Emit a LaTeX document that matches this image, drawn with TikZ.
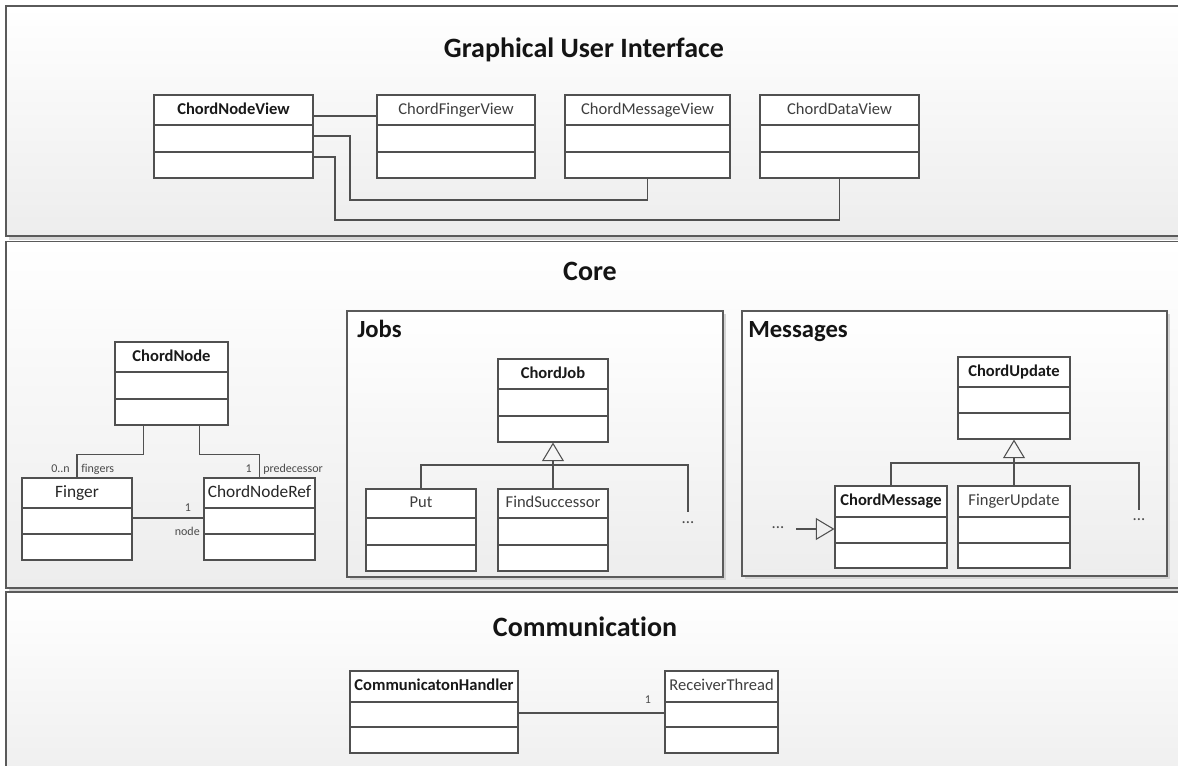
\documentclass[tikz,border=0pt]{standalone}
\usepackage{fontspec}
\setmainfont{Carlito}[Ligatures=NoCommon]
\usetikzlibrary{arrows.meta,fit,calc}
\definecolor{edgec}{HTML}{505050}
\definecolor{panelline}{HTML}{5A5A5A}
\definecolor{shadowc}{HTML}{D4D4D4}
\definecolor{lighttext}{HTML}{3E3E3E}
\definecolor{labtext}{HTML}{4A4A4A}
\definecolor{panelbot}{HTML}{EDEDED}
\tikzset{
  panel/.style={draw=panelline, line width=1.2pt, top color=white, bottom color=panelbot},
  subpanel/.style={draw=panelline, line width=0.9pt, top color=white, bottom color=panelbot},
  panelshadow/.style={fill=shadowc, draw=none},
  classbox/.style={draw=edgec, line width=0.8pt, fill=white, inner sep=0pt},
  divider/.style={draw=edgec, line width=0.8pt},
  assoc/.style={draw=edgec, line width=0.8pt},
  inherit/.style={draw=edgec, line width=0.8pt, -{Triangle[open, length=14pt, width=16.5pt]}},
  bname/.style={font=\fontsize{12.4pt}{14pt}\selectfont\bfseries, text=black!90, text height=0.7em, text depth=0.1em, inner sep=0pt},
  rname/.style={font=\fontsize{12.4pt}{14pt}\selectfont, text=lighttext, text height=0.7em, text depth=0.1em, inner sep=0pt},
  lname/.style={font=\fontsize{13pt}{15pt}\selectfont, text=black!85, text height=0.7em, text depth=0.1em, inner sep=0pt},
  sectitle/.style={font=\fontsize{21pt}{25pt}\selectfont\bfseries, text=black!92, anchor=base},
  subtitle/.style={font=\fontsize{18.5pt}{22pt}\selectfont\bfseries, text=black!92, anchor=base west, inner sep=0pt},
  mult/.style={font=\fontsize{9pt}{11pt}\selectfont, text=labtext, inner sep=0pt},
  dotsty/.style={font=\fontsize{12.5pt}{14pt}\selectfont, text=labtext, inner sep=0.5pt},
}
\newcommand{\umlclass}[9]{%
  \coordinate (#1-nw) at (#2,#3);
  \coordinate (#1-se) at (#4,#5);
  \node[classbox, fit=(#1-nw)(#1-se)] (#1) {};
  \draw[divider] (#2,#6) -- (#4,#6) (#2,#7) -- (#4,#7);
  \node[#8] (#1-name) at ({(#2+#4)/2},{(#3+#6)/2}) {#9};
}
\begin{document}
\begin{tikzpicture}[x=0.75pt,y=-0.75pt]
\clip (0,0) rectangle (1178,765);
\fill[white] (0,0) rectangle (1178,765);

% ---------- panels ----------
\fill[panelshadow] (9,9) rectangle (1205,239.5);
\path[panel] (6,6) rectangle (1200,236);
\fill[panelshadow] (9,244) rectangle (1205,590.5);
\path[panel] (6,241.5) rectangle (1200,588);
\path[panel] (6,592) rectangle (1200,800);

\node[sectitle] (guititle) at (584,57) {Graphical User Interface};
\node[sectitle] (coretitle) at (590,280) {Core};
\node[sectitle] (commtitle) at (585,636) {Communication};

% ---------- GUI ----------
\umlclass{cnv}{154}{95}{313}{178}{125}{152}{bname}{ChordNodeView}
\umlclass{cfv}{377}{95}{535}{178}{125}{152}{rname}{ChordFingerView}
\umlclass{cmv}{565}{95}{730}{178}{125}{152}{rname}{ChordMessageView}
\umlclass{cdv}{760}{95}{919}{178}{125}{152}{rname}{ChordDataView}

\coordinate (r1) at (0,116);
\coordinate (r2) at (0,136);
\coordinate (r3) at (0,157);
\coordinate (t2) at (350,200);
\coordinate (t3) at (335,220);
\draw[assoc] (cnv.east |- r1) -- (cfv.west |- r1);
\draw[assoc] (cnv.east |- r2) -| (t2) -| (cmv.south);
\draw[assoc] (cnv.east |- r3) -| (t3) -| (cdv.south);

% ---------- Core: left ----------
\umlclass{cn}{115}{342}{228}{425}{372}{399}{bname}{ChordNode}
\umlclass{fg}{22}{478}{132}{560}{508}{534}{lname}{Finger}
\umlclass{cnr}{204}{478}{315}{560}{508}{534}{lname}{ChordNodeRef}

\draw[assoc] ($(cn.south west)+(29,0)$) -- ++(0,29) -| (fg.north);
\draw[assoc] ($(cn.south east)+(-29,0)$) -- ++(0,29) -| (cnr.north);
\coordinate (fl) at (0,518);
\draw[assoc] (fg.east |- fl) -- (cnr.west |- fl);

\node[mult, anchor=base east] (m0n) at (70,472) {0..n};
\node[mult, anchor=base west] (mfing) at (81,472) {fingers};
\node[mult, anchor=base east] (m1p) at (252,472) {1};
\node[mult, anchor=base west] (mpred) at (263,472) {predecessor};
\node[mult, anchor=base] (m1n) at (188,511) {1};
\node[mult, anchor=base east] (mnode) at (200,535) {node};

% ---------- Jobs ----------
\fill[panelshadow] (350,314) rectangle (726,580);
\path[subpanel] (347,311) rectangle (723,577);
\node[subtitle] (jobstitle) at (357,337) {Jobs};

\umlclass{cj}{498}{359}{608}{442}{389}{416}{bname}{ChordJob}
\umlclass{put}{366}{489}{476}{571}{518}{545}{rname}{Put}
\umlclass{fs}{498}{489}{608}{571}{518}{545}{rname}{FindSuccessor}

\coordinate (jh) at (0,465);
\coordinate (je) at (688,512);
\draw[assoc] (put.north) |- (je |- jh) -- (je);
\draw[inherit] (fs.north) -- (cj.south);
\node[dotsty] (jdots) at (688,523) {...};

% ---------- Messages ----------
\fill[panelshadow] (745,314) rectangle (1170,579);
\path[subpanel] (742,311) rectangle (1167,576);
\node[subtitle] (msgtitle) at (748,337) {Messages};

\umlclass{cu}{958}{357}{1070}{439}{387}{413}{bname}{ChordUpdate}
\umlclass{cm}{835}{486}{947}{568}{517}{543}{bname}{ChordMessage}
\umlclass{fu}{958}{486}{1070}{568}{517}{543}{rname}{FingerUpdate}

\coordinate (mh) at (0,463);
\coordinate (me) at (1139,510);
\draw[assoc] (cm.north) |- (me |- mh) -- (me);
\draw[inherit] (fu.north) -- (cu.south);
\node[dotsty] (mdots2) at (1139,520) {...};

\coordinate (ml) at (796,529);
\draw[inherit] (ml) -- (cm.west |- ml);
\node[dotsty] (mdots1) at (778,528) {...};

% ---------- Communication ----------
\umlclass{ch}{350}{671}{518}{753}{702}{727}{bname}{CommunicatonHandler}
\umlclass{rt}{665}{671}{778}{753}{702}{727}{rname}{ReceiverThread}
\coordinate (cl) at (0,713);
\draw[assoc] (ch.east |- cl) -- (rt.west |- cl);
\node[mult, anchor=base] (m1c) at (648,703) {1};

\end{tikzpicture}
\end{document}
